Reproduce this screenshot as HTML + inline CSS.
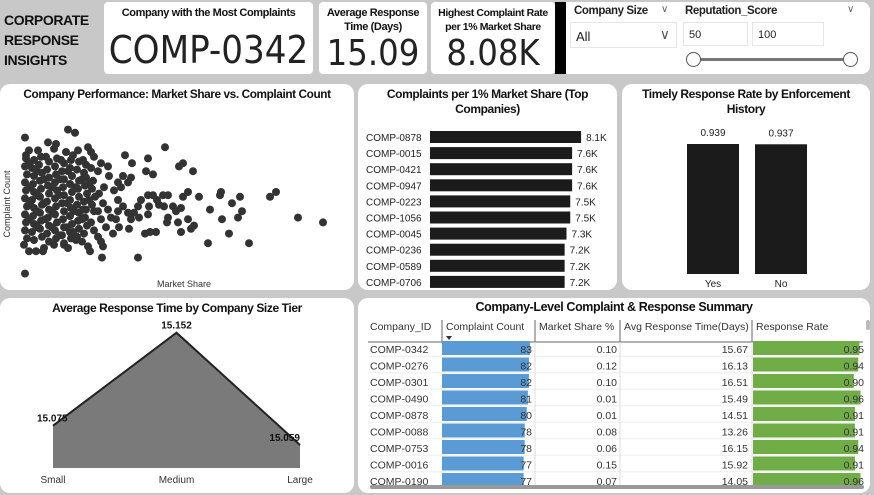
<!DOCTYPE html>
<html><head><meta charset="utf-8">
<style>
*{box-sizing:border-box;margin:0;padding:0}
body{width:874px;height:495px;background:#c8c8c8;font-family:"Liberation Sans",sans-serif;position:relative;overflow:hidden;color:#222}
.abs{position:absolute}
.panel{position:absolute;background:#fff;border-radius:10px}
.din{font-family:"Liberation Sans",sans-serif;font-weight:bold;letter-spacing:-0.4px}
.ttl{position:absolute;left:0;right:0;text-align:center;font-family:"Liberation Sans",sans-serif;font-weight:bold;font-size:12px;letter-spacing:-0.4px;color:#111;line-height:15px;white-space:nowrap}
svg text{font-family:"Liberation Sans",sans-serif}
</style></head><body>
<div class="abs din" style="left:4px;top:10px;font-size:14px;line-height:20px;color:#111">CORPORATE<br>RESPONSE<br>INSIGHTS</div>

<div class="panel" style="left:104px;top:2px;width:209px;height:72px;border-radius:4px">
 <div class="ttl" style="top:4px;font-size:11px">Company with the Most Complaints</div>
 <div class="abs" style="left:0;right:0;top:26px;text-align:center;font-size:38px;font-family:'DejaVu Sans Condensed','Liberation Sans',sans-serif;color:#222">COMP-0342</div>
</div>
<div class="panel" style="left:319px;top:2px;width:108px;height:72px;border-radius:4px">
 <div class="ttl" style="top:4px;font-size:11px;line-height:14px">Average Response<br>Time (Days)</div>
 <div class="abs" style="left:0;right:0;top:31px;text-align:center;font-size:36px;font-family:'DejaVu Sans Condensed','Liberation Sans',sans-serif;color:#222">15.09</div>
</div>
<div class="panel" style="left:431px;top:2px;width:124px;height:72px;border-radius:4px">
 <div class="ttl" style="top:4px;font-size:10.5px;line-height:14px">Highest Complaint Rate<br>per 1% Market Share</div>
 <div class="abs" style="left:0;right:0;top:31px;text-align:center;font-size:36px;font-family:'DejaVu Sans Condensed','Liberation Sans',sans-serif;color:#222">8.08K</div>
</div>
<div class="abs" style="left:555px;top:2px;width:11px;height:72px;background:#000"></div>
<div class="panel" style="left:566px;top:2px;width:304px;height:72px;border-radius:0 8px 8px 0">
 <div class="abs din" style="left:8px;top:3px;font-size:11.5px">Company Size</div>
 <div class="abs" style="left:95px;top:2px;font-size:10px;color:#666">&#8744;</div>
 <div class="abs" style="left:4px;top:20px;width:107px;height:26px;border:1px solid #e6e6e6;font-size:13px;padding:6px 5px">All<span style="position:absolute;right:6px;top:3px;font-size:14px;color:#555">&#8744;</span></div>
 <div class="abs din" style="left:119px;top:3px;font-size:11.5px">Reputation_Score</div>
 <div class="abs" style="left:281px;top:2px;font-size:10px;color:#666">&#8744;</div>
 <div class="abs" style="left:117px;top:20px;width:65px;height:24px;border:1px solid #e6e6e6;font-size:11px;padding:6px 5px">50</div>
 <div class="abs" style="left:186px;top:20px;width:72px;height:24px;border:1px solid #e6e6e6;font-size:11px;padding:6px 5px">100</div>
 <div class="abs" style="left:128px;top:56px;width:150px;height:3px;background:#777"></div>
 <div class="abs" style="left:120px;top:50px;width:15px;height:15px;border:1px solid #555;border-radius:50%;background:#fff"></div>
 <div class="abs" style="left:277px;top:50px;width:15px;height:15px;border:1px solid #555;border-radius:50%;background:#fff"></div>
</div>

<div class="panel" style="left:0;top:84px;width:354px;height:206px">
 <div class="ttl" style="top:3px;font-size:11.8px">Company Performance: Market Share vs. Complaint Count</div>
 <svg id="scatter" class="abs" style="left:0;top:0" width="354" height="206"></svg>
</div>
<div class="panel" style="left:358px;top:84px;width:259px;height:206px">
 <div class="ttl" style="top:3px">Complaints per 1% Market Share (Top<br>Companies)</div>
 <svg id="bars" class="abs" style="left:0;top:0" width="259" height="206"></svg>
</div>
<div class="panel" style="left:622px;top:84px;width:248px;height:206px">
 <div class="ttl" style="top:3px">Timely Response Rate by Enforcement<br>History</div>
 <svg id="cols" class="abs" style="left:0;top:0" width="248" height="206"></svg>
</div>
<div class="panel" style="left:0;top:298px;width:354px;height:195px">
 <div class="ttl" style="top:3px">Average Response Time by Company Size Tier</div>
 <svg id="area" class="abs" style="left:0;top:0" width="354" height="195"></svg>
</div>
<div class="panel" style="left:358px;top:298px;width:512px;height:195px">
 <div class="ttl" style="top:2px;font-size:12.5px">Company-Level Complaint &amp; Response Summary</div>
 <svg id="table" class="abs" style="left:0;top:0" width="512" height="195"></svg>
</div>

<script>
const scatterPoints = [
[0.2,89],[4.5,94],[5.2,92],[2.5,86],[3.3,85],[6.5,83],[14.2,83],[10.2,78],[12.5,76],[16,73],[15.6,71],[17,68],[10.9,73],[13,66],[12.3,68],
[19.8,55],[25.3,55],[24.7,52],[21.7,52],[17.6,52],[16.5,55],[16,52],[19.7,53],[20.9,48],[18.7,44],[21.9,43],[21.5,39],[27.5,39],[30,36],[19.9,38],
[20.6,29],[18.5,23],[22.6,23],[15.8,30],[17.1,34],[16.8,32],[16.5,38],[15.5,36],[14.4,36],[14.5,39],[15.3,43],[15,46],[14.1,46],[15.8,45],[13.3,30],
[12.2,29],[12.7,30],[11.5,14],[7.9,14],[6.7,18],[0.2,4],[8,21],[9,29],[9.6,33],[10.6,32],[11.6,39],[12.5,41],[12.6,46],[13.4,50],[14,53],[14.5,53],
[13.6,47],[12.5,53],[13,53],[11.8,50],[11.5,46],[11.1,42],[10.8,38],[10.5,42],[10,46],[9.5,50],[9.1,56],[9.8,58],[10.5,61],[10.8,64],[10,65],[9.5,61],
[8.6,65],[8.5,71],[7.8,73],[7.5,68],[8.1,58],[7.6,54],[8,48],[7.5,43],[7.8,38],[7.1,31],[7.5,27],[7.8,24],[8.5,44],[8.8,39],[8.3,33],[9.3,38],[9.5,43],
[6.8,80],[7.1,77],[6,75],[5.5,81],[5,78],[4.3,80],[3.8,75],[3.1,82],[2.3,77],[1.5,81],[0.6,81],[0.3,78],[3.1,22],[4.1,22],[4.5,20],[2.1,20],[1.3,18],
[0.6,18],[0.1,22],[2,18],[5.3,25],
[0.3,76],[1.1,75],[1.8,77],[2.6,74],[3.4,76],[4.1,73],[4.8,75],[5.6,74],[6.3,72],
[0.2,71],[0.9,70],[1.6,72],[2.4,69],[3.2,71],[3.9,68],[4.7,70],[5.4,69],[6.1,67],[6.8,70],
[0.4,66],[1.1,65],[1.9,67],[2.6,64],[3.3,66],[4.1,63],[4.9,65],[5.6,62],[6.3,64],[7.0,62],
[0.2,61],[1.0,60],[1.7,62],[2.5,59],[3.2,61],[4.0,58],[4.7,60],[5.5,57],[6.2,59],[6.9,57],
[0.3,56],[1.1,55],[1.8,57],[2.6,54],[3.4,56],[4.1,53],[4.9,55],[5.6,52],[6.4,54],[7.2,52],
[0.2,51],[0.9,50],[1.7,52],[2.4,49],[3.2,51],[3.9,48],[4.7,50],[5.4,47],[6.1,49],[6.9,47],
[0.4,46],[1.1,45],[1.9,47],[2.6,44],[3.3,46],[4.1,43],[4.8,45],[5.6,42],[6.3,44],[7.1,43],
[0.2,41],[1.0,40],[1.7,42],[2.5,39],[3.2,41],[4.0,38],[4.7,40],[5.5,37],[6.2,39],[6.8,36],
[0.3,36],[1.1,35],[1.8,37],[2.6,34],[3.4,36],[4.1,33],[4.9,35],[5.6,32],[6.4,34],
[0.2,31],[0.9,30],[1.7,32],[2.4,29],[3.2,31],[3.9,28],[4.7,30],[5.4,27],[6.1,29],
[0.4,26],[1.1,25],[1.9,27],[2.6,24],[3.3,26],[4.1,23],[4.8,26],[5.9,24],[6.5,21],
[0.6,73],[1.4,68],[2.1,63],[2.9,58],[3.6,53],[4.4,48],[5.1,43],[5.9,38],[0.7,48],[1.4,43],[2.2,38],[2.9,33],[3.7,28],[4.4,33],
[0.7,58],[1.4,53],[2.1,48],[5.2,58],[5.9,63],[4.5,68],[3.7,63],[2.9,43],[0.6,38],[1.4,33],[5.0,30],[6.6,60],[6.6,50],[6.0,44]
];
const barCompanies = ["COMP-0878","COMP-0015","COMP-0421","COMP-0947","COMP-0223","COMP-1056","COMP-0045","COMP-0236","COMP-0589","COMP-0706"];
const barValues = [8.08,7.6,7.6,7.6,7.5,7.5,7.3,7.2,7.2,7.2];
const colCategories = ["Yes","No"];
const colValues = [0.939,0.937];
const tierCategories = ["Small","Medium","Large"];
const tierValues = [15.075,15.152,15.059];
const tableIds = ["COMP-0342","COMP-0276","COMP-0301","COMP-0490","COMP-0878","COMP-0088","COMP-0753","COMP-0016","COMP-0190"];
const tableCounts = [83,82,82,81,80,78,78,77,77];
const tableShares = ["0.10","0.12","0.10","0.01","0.01","0.08","0.06","0.15","0.07"];
const tableTimes = ["15.67","16.13","16.51","15.49","14.51","13.26","16.15","15.92","14.05"];
const tableRates = [0.95,0.94,0.90,0.96,0.91,0.91,0.94,0.91,0.96];

const NS="http://www.w3.org/2000/svg";
function mk(parent,tag,attrs,text){const e=document.createElementNS(NS,tag);for(const k in attrs)e.setAttribute(k,attrs[k]);if(text!==undefined)e.textContent=text;parent.appendChild(e);return e;}

(function(){
 const s=document.getElementById('scatter');
 const x=v=>23+v*10, y=v=>196-v*1.6;
 const ax=mk(s,'text',{x:10,y:120,'font-size':9,'text-anchor':'middle',transform:'rotate(-90 10 120)',fill:'#333'},'Complaint Count');
 
 
 const axx=mk(s,'text',{x:184,y:203,'font-size':9,'text-anchor':'middle',fill:'#333'},'Market Share');
 
 
 scatterPoints.forEach(p=>{
  const c=mk(s,'circle',{cx:x(p[0]),cy:y(p[1]),r:4,fill:'#333'});
  
  
 });
})();

(function(){
 const s=document.getElementById('bars');
 const x0=72, k=18.7, y=i=>53+i*16.1;
 barCompanies.forEach((c,i)=>{
  const t=mk(s,'text',{x:8,y:y(i)+4,'font-size':10,fill:'#222'},c);
  
  
  const r=mk(s,'rect',{x:x0,y:y(i)-6,width:barValues[i]*k,height:12,fill:'#1b1b1b'});
  
  
  const v=mk(s,'text',{x:x0+barValues[i]*k+5,y:y(i)+4,'font-size':10,fill:'#222'},barValues[i].toFixed(1)+'K');
  
  
 });
})();

(function(){
 const s=document.getElementById('cols');
 const base=190, h=v=>v/0.939*130, xs=i=>65+i*68;
 colCategories.forEach((c,i)=>{
  const r=mk(s,'rect',{x:xs(i),y:base-h(colValues[i]),width:52,height:h(colValues[i]),fill:'#1b1b1b'});
  
  
  const v=mk(s,'text',{x:xs(i)+26,y:base-h(colValues[i])-8,'font-size':10,'text-anchor':'middle',fill:'#222'},colValues[i].toFixed(3));
  
  
  const l=mk(s,'text',{x:xs(i)+26,y:base+13,'font-size':10,'text-anchor':'middle',fill:'#222'},c);
  
  
 });
})();

(function(){
 const s=document.getElementById('area');
 const xs=i=>53+i*123.5, y=v=>170-(v-15.04)*1208, base=170;
 let d='M'+xs(0)+','+base;
 tierValues.forEach((v,i)=>{d+=' L'+xs(i)+','+y(v);});
 d+=' L'+xs(tierValues.length-1)+','+base+' Z';
 const a=mk(s,'path',{d:d,fill:'#7a7a7a'});
 
 
 const pts=tierValues.map((v,i)=>xs(i)+','+y(v)).join(' ');
 const ln=mk(s,'polyline',{points:pts,fill:'none',stroke:'#222','stroke-width':2});
 
 
 tierCategories.forEach((c,i)=>{
  const anchor=i===0?'start':(i===tierValues.length-1?'end':'middle');
  const dx=i===0?-16:0;
  const v=mk(s,'text',{x:xs(i)+dx,y:y(tierValues[i])-4,'font-size':10,'font-weight':'bold','text-anchor':anchor,fill:'#111'},tierValues[i].toFixed(3));
  
  
  const l=mk(s,'text',{x:xs(i),y:base+15,'font-size':10,'text-anchor':'middle',fill:'#333'},c);
  
  
 });
})();

(function(){
 const s=document.getElementById('table');
 const cols=[10,84,177,262,394,505];
 const heads=["Company_ID","Complaint Count","Market Share %","Avg Response Time(Days)","Response Rate"];
 heads.forEach((h,i)=>{
  const t=mk(s,'text',{x:cols[i]+(i==0?2:4),y:32,'font-size':10.5,fill:'#333'},h);
  
  
  if(i>0) mk(s,'line',{x1:cols[i],y1:22,x2:cols[i],y2:44,stroke:'#666'});
 });
 mk(s,'path',{d:'M88,38 l6,0 l-3,4 z',fill:'#333'});
 mk(s,'line',{x1:10,y1:44,x2:505,y2:44,stroke:'#666'});
 const ry=i=>50+i*16.5;
 tableIds.forEach((id,i)=>{
  const y=ry(i);
  const t=mk(s,'text',{x:12,y:y+5,'font-size':10.5,fill:'#333'},id);
  
  
  const b=mk(s,'rect',{x:84,y:y-7,width:tableCounts[i]/83*88,height:14,fill:'#5b9bd5'});
  
  
  mk(s,'text',{x:174,y:y+5,'font-size':10.5,'text-anchor':'end',fill:'#333'},String(tableCounts[i]));
  mk(s,'text',{x:259,y:y+5,'font-size':10.5,'text-anchor':'end',fill:'#333'},tableShares[i]);
  mk(s,'text',{x:390,y:y+5,'font-size':10.5,'text-anchor':'end',fill:'#333'},tableTimes[i]);
  const g=mk(s,'rect',{x:395,y:y-7,width:tableRates[i]*112,height:14,fill:'#70ad47'});
  
  
  mk(s,'text',{x:506,y:y+5,'font-size':10.5,'text-anchor':'end',fill:'#333'},tableRates[i].toFixed(2));
  mk(s,'line',{x1:10,y1:y+8.2,x2:505,y2:y+8.2,stroke:'#eee'});
 });
 [177,262,394].forEach(x=>mk(s,'line',{x1:x,y1:44,x2:x,y2:188,stroke:'#ddd'}));
 const sb=mk(s,'rect',{x:12,y:187,width:494,height:4,rx:2,fill:'#999'});
 
 
 const vs=mk(s,'rect',{x:508,y:22,width:4,height:10,rx:2,fill:'#bbb'});
 
 
})();
</script>
</body></html>
